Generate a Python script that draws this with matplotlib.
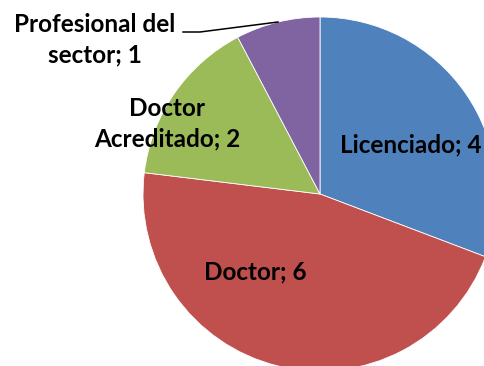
import matplotlib.pyplot as plt

# categories and counts
categories = ['Licenciado', 'Doctor', 'Doctor\nAcreditado', 'Profesional del\nsector']
counts = [4, 6, 2, 1]
colors = ['#4F81BD', '#C0504D', '#9BBB59', '#8064A2']

W, H = 485, 366
fig = plt.figure(figsize=(W / 100, H / 100), dpi=100)
ax = fig.add_axes([0, 0, 1, 1])

cx, cy, r = 320, H - 194, 177
ax.pie(counts, colors=colors, startangle=90, counterclock=False,
       center=(cx, cy), radius=r, frame=True,
       wedgeprops=dict(edgecolor='white', linewidth=0.6))
ax.set_xlim(0, W)
ax.set_ylim(0, H)
ax.set_aspect('equal')
ax.axis('off')

# label positions in pixel coordinates (y from top)
label_pos = [(411, 145), (255, 272), (167, 124), (95, 40)]
font = dict(family=['Lato', 'DejaVu Sans'], fontsize=17.5, fontweight='bold',
            ha='center', va='center', linespacing=1.4)
for name, n, (x, y) in zip(categories, counts, label_pos):
    ax.text(x, H - y, f'{name}; {n}', **font)

# leader line for the smallest slice
ax.plot([183, 200, 278], [H - 32, H - 32, H - 22], color='black', lw=1.1)

fig.savefig('out.png', dpi=100)
